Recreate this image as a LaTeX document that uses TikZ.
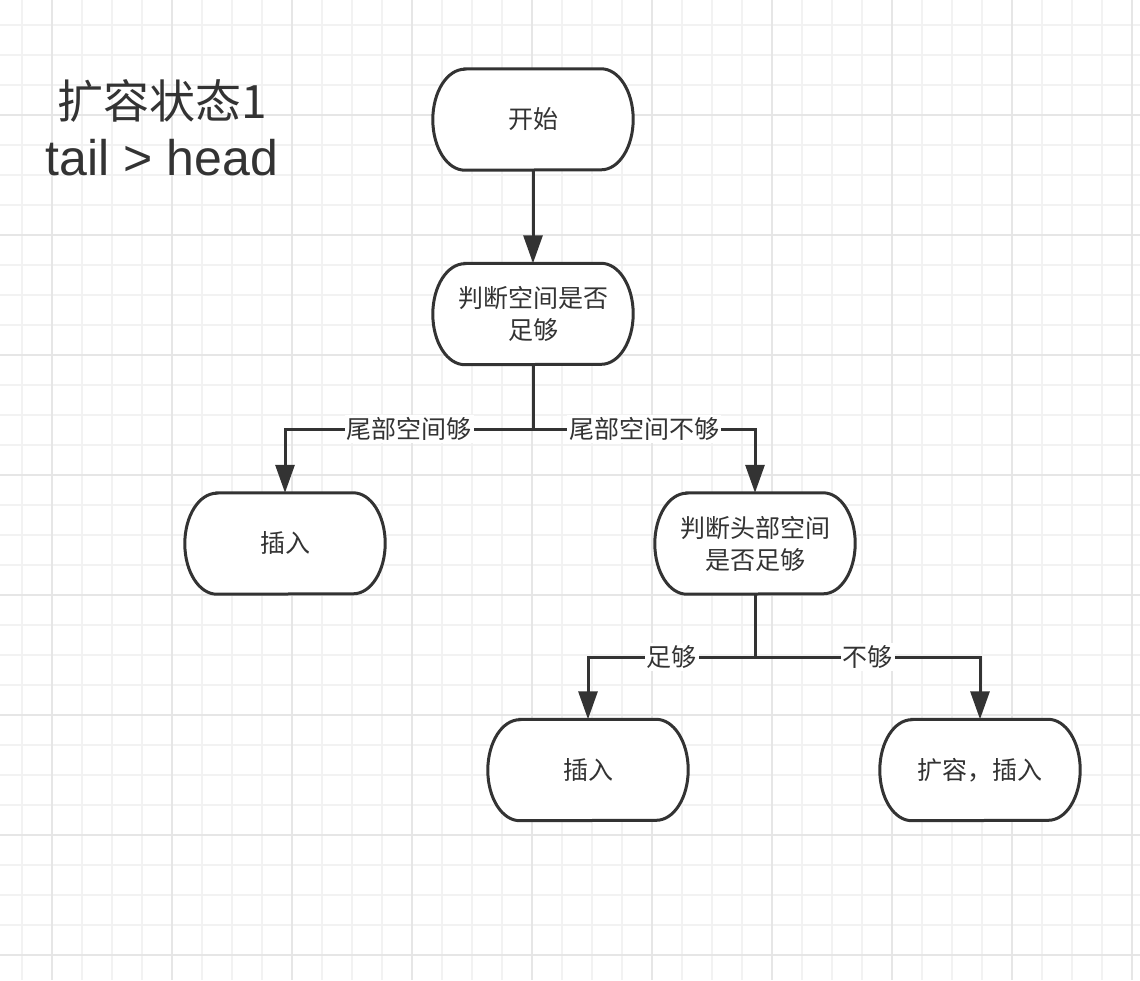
\documentclass[tikz,border=0pt]{standalone}
\usepackage{fontspec}
\setmainfont{Liberation Sans}
\newfontfamily\cjk{Noto Sans CJK SC}
\usetikzlibrary{arrows.meta}
\definecolor{ink}{HTML}{333333}
\definecolor{gridminor}{HTML}{F2F2F2}
\definecolor{gridmajor}{HTML}{E6E6E6}
\tikzset{
  termbox/.style={minimum width=200pt, minimum height=101pt, inner sep=0pt, align=center, text=ink, font=\cjk\fontsize{25}{32}\selectfont},
  outline/.style={draw=ink, line width=3pt, fill=white},
  conn/.style={draw=ink, line width=3pt, -{Triangle[length=28pt,width=19pt]}},
  lbl/.style={fill=white, inner sep=2pt, text=ink, font=\cjk\fontsize{25}{32}\selectfont},
}
\begin{document}
\begin{tikzpicture}[x=1pt,y=-1pt]
\useasboundingbox (0,0) rectangle (1140,980);
\fill[white] (0,0) rectangle (1140,980);
% grid
\foreach \x in {22,52,...,1132} \draw[gridminor, line width=1.5pt] (\x,0) -- (\x,980);
\foreach \y in {25,55,...,975} \draw[gridminor, line width=1.5pt] (0,\y) -- (1140,\y);
\foreach \x in {52,172,...,1132} \draw[gridmajor, line width=2pt] (\x,0) -- (\x,980);
\foreach \y in {115,235,...,955} \draw[gridmajor, line width=2pt] (0,\y) -- (1140,\y);
% title
\node[anchor=base, align=center, text=ink, inner sep=0pt, font=\fontsize{46}{57}\selectfont] (title) at (162,175) {{\cjk 扩容状态1}\\{\fontsize{50}{57}\selectfont tail > head}};
% nodes (placement)
\node[termbox] (start) at (533,119.5) {};
\node[termbox] (judge) at (533,314) {};
\node[termbox] (ins1) at (285,543.5) {};
\node[termbox] (judgehead) at (755,543.5) {};
\node[termbox] (ins2) at (588,770) {};
\node[termbox] (grow) at (980,770) {};
\foreach \n in {start,judge,ins1,judgehead,ins2,grow} {
  \path[outline] ([xshift=32pt]\n.north west) -- ([xshift=-32pt]\n.north east)
    arc[start angle=90, end angle=-90, x radius=32pt, y radius=50.5pt]
    -- ([xshift=32pt]\n.south west)
    arc[start angle=270, end angle=90, x radius=32pt, y radius=50.5pt] -- cycle;
}
\node[termbox] (startT) at (start) {开始};
\node[termbox] (judgeT) at (judge) {判断空间是否\\足够};
\node[termbox] (ins1T) at (ins1) {插入};
\node[termbox] (judgeheadT) at (judgehead) {判断头部空间\\是否足够};
\node[termbox] (ins2T) at (ins2) {插入};
\node[termbox] (growT) at (grow) {扩容，插入};
% connectors
\coordinate (b1) at (533,429);
\coordinate (b2) at (755,657);
\draw[conn] (start.south) -- (judge.north);
\draw[conn] (judge.south) -- (b1) -| node[lbl, pos=0.25] {尾部空间够} (ins1.north);
\draw[conn] (judge.south) -- (b1) -| node[lbl, pos=0.25] {尾部空间不够} (judgehead.north);
\draw[conn] (judgehead.south) -- (b2) -| node[lbl, pos=0.25] {足够} (ins2.north);
\draw[conn] (judgehead.south) -- (b2) -| node[lbl, pos=0.25] {不够} (grow.north);
\end{tikzpicture}
\end{document}
